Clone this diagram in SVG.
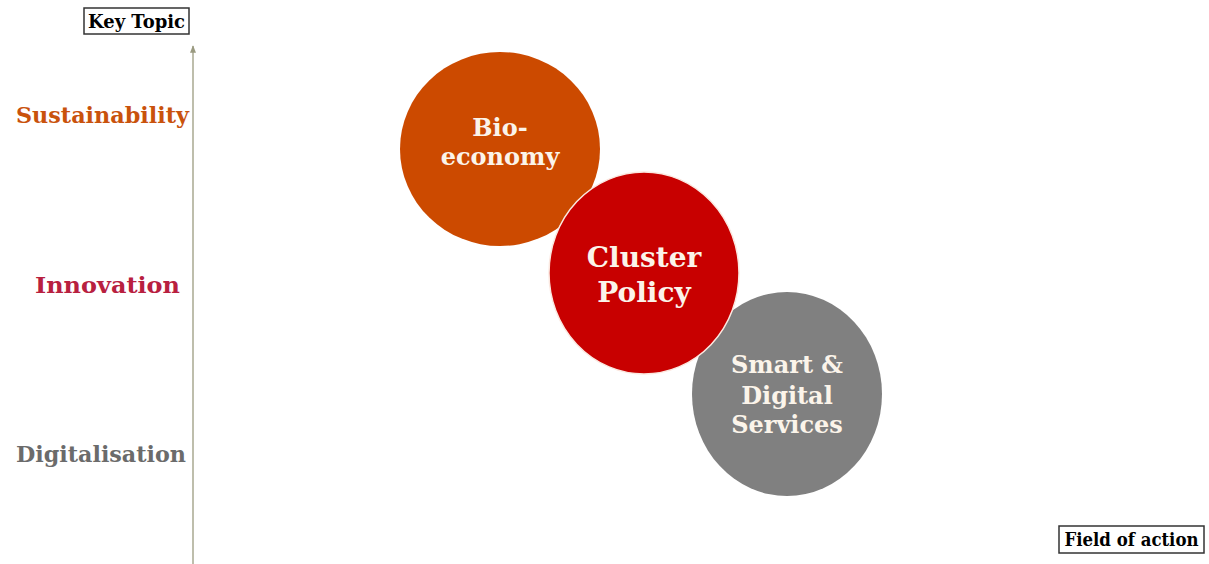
<svg xmlns="http://www.w3.org/2000/svg" width="1209" height="564" viewBox="0 0 1209 564">
<style>
text{font-family:"DejaVu Serif","Liberation Serif",serif;font-weight:bold}
.ax{font-size:22.5px;text-anchor:end}
.in{fill:#fbf4ea;text-anchor:middle}
.box{fill:#fff;stroke:#333;stroke-width:1.5}
.lbl{font-size:18px;fill:#000}
</style>
<defs>
<marker id="ah" viewBox="0 0 10 10" refX="9" refY="5" markerWidth="5" markerHeight="5" orient="auto"><path d="M0,1 L10,5 L0,9 z" fill="#9a9a80"/></marker>
</defs>
<rect width="1209" height="564" fill="#fff"/>
<g id="connectors">
<line x1="193" y1="564" x2="193" y2="46" stroke="#a8a890" stroke-width="1.5" marker-end="url(#ah)"/>
</g>
<g id="key-topic"><rect class="box" x="84" y="8" width="105" height="26"/><text class="lbl" x="136.5" y="28" text-anchor="middle" textLength="97" lengthAdjust="spacingAndGlyphs">Key Topic</text></g>
<g id="field-of-action"><rect class="box" x="1059" y="526" width="145" height="27"/><text class="lbl" x="1131.5" y="546" text-anchor="middle" textLength="134" lengthAdjust="spacingAndGlyphs">Field of action</text></g>
<g id="sustainability"><text class="ax" x="189" y="123" fill="#c9520c" textLength="173" lengthAdjust="spacingAndGlyphs">Sustainability</text></g>
<g id="innovation"><text class="ax" x="180" y="293" fill="#b8203f" textLength="145" lengthAdjust="spacingAndGlyphs">Innovation</text></g>
<g id="digitalisation"><text class="ax" x="186" y="462" fill="#6b6b6b" textLength="170" lengthAdjust="spacingAndGlyphs">Digitalisation</text></g>
<g id="bio-economy"><ellipse cx="500" cy="149" rx="100" ry="97" fill="#cc4a00"/><text class="in" font-size="24" x="500" y="136">Bio-</text><text class="in" font-size="24" x="500" y="165">economy</text></g>
<g id="smart-digital-services"><ellipse cx="787" cy="394" rx="95" ry="102" fill="#808080"/><text class="in" font-size="24" x="787" y="373">Smart &amp;</text><text class="in" font-size="24" x="787" y="404">Digital</text><text class="in" font-size="24" x="787" y="433">Services</text></g>
<g id="cluster-policy"><ellipse cx="644" cy="273" rx="95" ry="101" fill="#c80000" stroke="#fbe8e0" stroke-width="1.5"/><text class="in" font-size="28" x="644" y="267">Cluster</text><text class="in" font-size="28" x="644" y="302">Policy</text></g>
</svg>
